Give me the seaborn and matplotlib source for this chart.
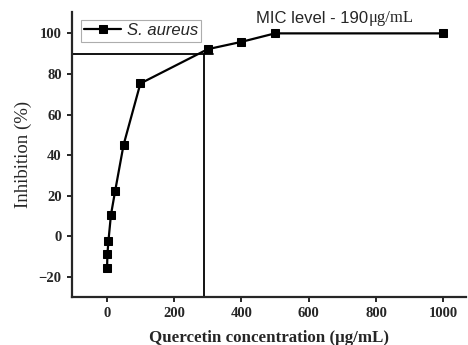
import numpy as np
import pandas as pd
import matplotlib
matplotlib.use("Agg")
import matplotlib.pyplot as plt
import seaborn as sns

# datos
conc = [1, 2, 5, 12.5, 25, 50, 100, 300, 400, 500, 1000]
inhib = [-15.7, -9.0, -2.5, 10.5, 22.3, 45.0, 75.3, 92.2, 95.8, 100.0, 100.0]
mic_conc = 290
mic_inhib = 90
x_ticks = [0, 200, 400, 600, 800, 1000]
y_ticks = [-20, 0, 20, 40, 60, 80, 100]

df = pd.DataFrame({"conc": conc, "inhib": inhib})

sns.set_style("ticks")
fig = plt.figure(figsize=(4.68, 3.45), dpi=100)
ax = fig.add_axes([0.154, 0.139, 0.842, 0.826])

sns.lineplot(data=df, x="conc", y="inhib", ax=ax, color="black", marker="s",
             markersize=5.5, markeredgecolor="black", linewidth=1.6, label="S. aureus")

# lineas de referencia MIC
ax.plot([-100, 316], [mic_inhib, mic_inhib], color="black", lw=1.3)
ax.plot([mic_conc, mic_conc], [-30, mic_inhib], color="black", lw=1.3)

ax.set_xlim(-103, 1068)
ax.set_ylim(-30, 110.5)
ax.set_xticks(x_ticks)
ax.set_yticks(y_ticks)
sns.despine(ax=ax)
for s in ["left", "bottom"]:
    ax.spines[s].set_linewidth(1.6)
ax.tick_params(width=1.4, length=3.5, direction="out", pad=4)
for lab in ax.get_xticklabels() + ax.get_yticklabels():
    lab.set_fontfamily("Liberation Serif")
    lab.set_fontweight("bold")
    lab.set_fontsize(10.5)

ax.set_xlabel("Quercetin concentration (μg/mL)", fontfamily="Liberation Serif",
              fontweight="bold", fontsize=12.2, labelpad=7)
ax.set_ylabel("Inhibition (%)", fontfamily="Liberation Serif",
              fontsize=13.5, labelpad=5)

leg = ax.legend(loc="upper left", bbox_to_anchor=(0.01, 0.99), frameon=True, fancybox=False,
                handlelength=2.2, borderpad=0.2, handletextpad=0.35, borderaxespad=0.3,
                prop={"family": "Liberation Sans", "style": "italic", "size": 12})
leg.get_frame().set_edgecolor("#999999")
leg.get_frame().set_linewidth(0.8)

t1 = ax.text(0.468, 0.95, "MIC level - 190", transform=ax.transAxes, fontsize=12,
             fontfamily="Liberation Sans", va="bottom")
ax.annotate("μg/mL", xy=(1, 0), xycoords=t1, va="bottom", ha="left",
            fontfamily="Liberation Serif", fontsize=12)

fig.savefig("out.png", dpi=100)
